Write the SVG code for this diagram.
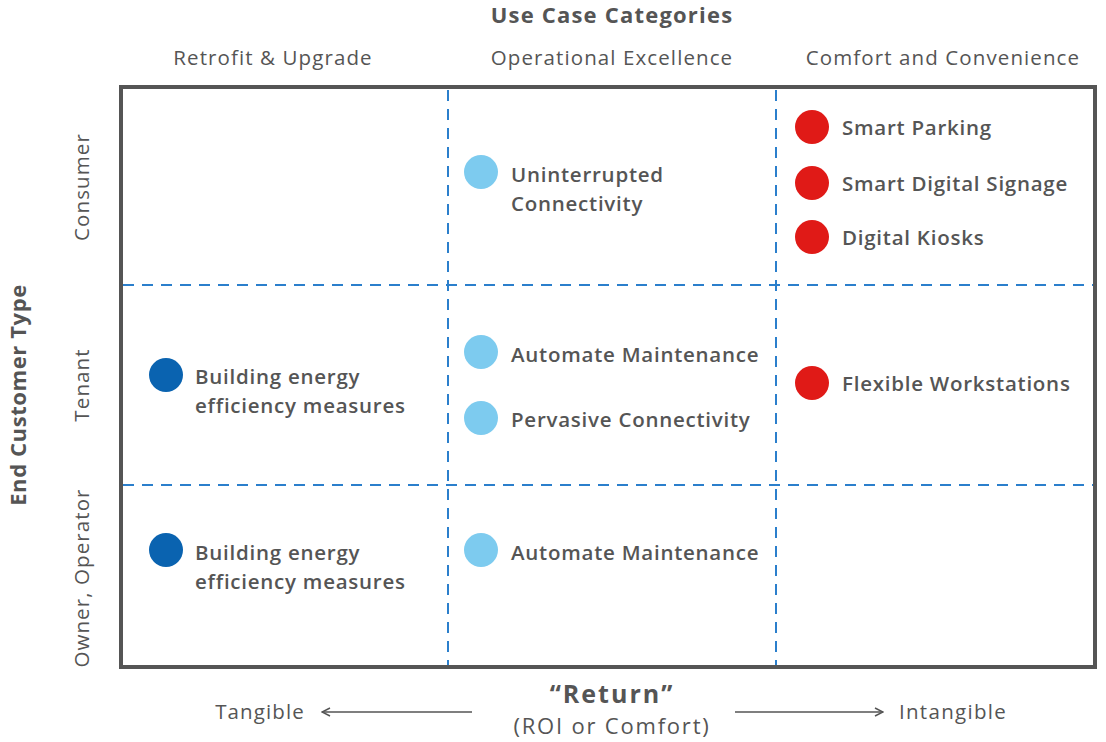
<svg xmlns="http://www.w3.org/2000/svg" width="1106" height="742" viewBox="0 0 1106 742">
  <defs>
    <style>
      .t { font-family: "Open Sans", "Liberation Sans", sans-serif; fill: #555; }
      .hdr { font-size: 20.5px; font-weight: 500; letter-spacing: 1.1px; text-anchor: middle; }
      .ttl { font-size: 22px; font-weight: 700; letter-spacing: 1.2px; text-anchor: middle; }
      .lbl { font-size: 20.5px; font-weight: 600; letter-spacing: 0.75px; }
      .grid { stroke: #2b7fcc; stroke-width: 2; stroke-dasharray: 11 8; fill: none; }
      .dk { fill: #0a63b0; }
      .lt { fill: #7dcbef; }
      .rd { fill: #e01a17; }
      .ax { stroke: #555; stroke-width: 1.5; fill: none; }
    </style>
    <marker id="ah" viewBox="0 0 10 10" refX="9" refY="5" markerWidth="10" markerHeight="10" markerUnits="userSpaceOnUse" orient="auto">
      <path d="M1,1 L9,5 L1,9" fill="none" stroke="#555" stroke-width="1.5"/>
    </marker>
  </defs>
  <rect width="1106" height="742" fill="#fff"/>

  <!-- headings -->
  <g id="headings">
    <text class="t ttl" x="612" y="23">Use Case Categories</text>
    <text class="t hdr" x="273" y="65">Retrofit &amp; Upgrade</text>
    <text class="t hdr" x="612" y="65">Operational Excellence</text>
    <text class="t hdr" x="943" y="65">Comfort and Convenience</text>
    <text class="t ttl" style="letter-spacing:0.6px" transform="translate(26,395) rotate(-90)">End Customer Type</text>
    <text class="t hdr" transform="translate(89,187) rotate(-90)">Consumer</text>
    <text class="t hdr" transform="translate(89,385) rotate(-90)">Tenant</text>
    <text class="t hdr" transform="translate(89,578) rotate(-90)">Owner, Operator</text>
  </g>

  <!-- matrix frame and grid -->
  <g id="connectors">
    <line class="grid" x1="448" y1="90" x2="448" y2="665"/>
    <line class="grid" x1="776" y1="90" x2="776" y2="665"/>
    <line class="grid" x1="123" y1="285" x2="1093" y2="285"/>
    <line class="grid" x1="123" y1="485" x2="1093" y2="485"/>
    <rect x="121" y="87" width="974" height="580" fill="none" stroke="#555" stroke-width="4"/>
    <line class="ax" x1="472" y1="712" x2="322" y2="712" marker-end="url(#ah)"/>
    <line class="ax" x1="735" y1="712" x2="883" y2="712" marker-end="url(#ah)"/>
  </g>

  <!-- use cases -->
  <g id="uninterrupted-connectivity">
    <circle class="lt" cx="481" cy="172" r="17"/>
    <text class="t lbl" x="511" y="182">Uninterrupted</text>
    <text class="t lbl" x="511" y="211">Connectivity</text>
  </g>
  <g id="smart-parking">
    <circle class="rd" cx="812" cy="127" r="17"/>
    <text class="t lbl" x="842" y="135">Smart Parking</text>
  </g>
  <g id="smart-digital-signage">
    <circle class="rd" cx="812" cy="183" r="17"/>
    <text class="t lbl" x="842" y="191">Smart Digital Signage</text>
  </g>
  <g id="digital-kiosks">
    <circle class="rd" cx="812" cy="237" r="17"/>
    <text class="t lbl" x="842" y="245">Digital Kiosks</text>
  </g>
  <g id="tenant-energy">
    <circle class="dk" cx="166" cy="375" r="17"/>
    <text class="t lbl" x="195" y="384">Building energy</text>
    <text class="t lbl" x="195" y="413">efficiency measures</text>
  </g>
  <g id="tenant-automate-maintenance">
    <circle class="lt" cx="481" cy="352" r="17"/>
    <text class="t lbl" x="511" y="362">Automate Maintenance</text>
  </g>
  <g id="pervasive-connectivity">
    <circle class="lt" cx="481" cy="418" r="17"/>
    <text class="t lbl" x="511" y="427">Pervasive Connectivity</text>
  </g>
  <g id="flexible-workstations">
    <circle class="rd" cx="812" cy="383" r="17"/>
    <text class="t lbl" x="842" y="391">Flexible Workstations</text>
  </g>
  <g id="owner-energy">
    <circle class="dk" cx="166" cy="550" r="17"/>
    <text class="t lbl" x="195" y="560">Building energy</text>
    <text class="t lbl" x="195" y="589">efficiency measures</text>
  </g>
  <g id="owner-automate-maintenance">
    <circle class="lt" cx="481" cy="550" r="17"/>
    <text class="t lbl" x="511" y="560">Automate Maintenance</text>
  </g>

  <!-- return axis -->
  <g id="return-axis">
    <text class="t hdr" x="260" y="719">Tangible</text>
    <text class="t hdr" style="letter-spacing:1.3px" x="953" y="719">Intangible</text>
    <text class="t ttl" style="font-size:25px; letter-spacing:2px" x="612" y="703">“Return”</text>
    <text class="t hdr" style="font-size:22px; letter-spacing:1.8px" x="612" y="734">(ROI or Comfort)</text>
  </g>
</svg>
